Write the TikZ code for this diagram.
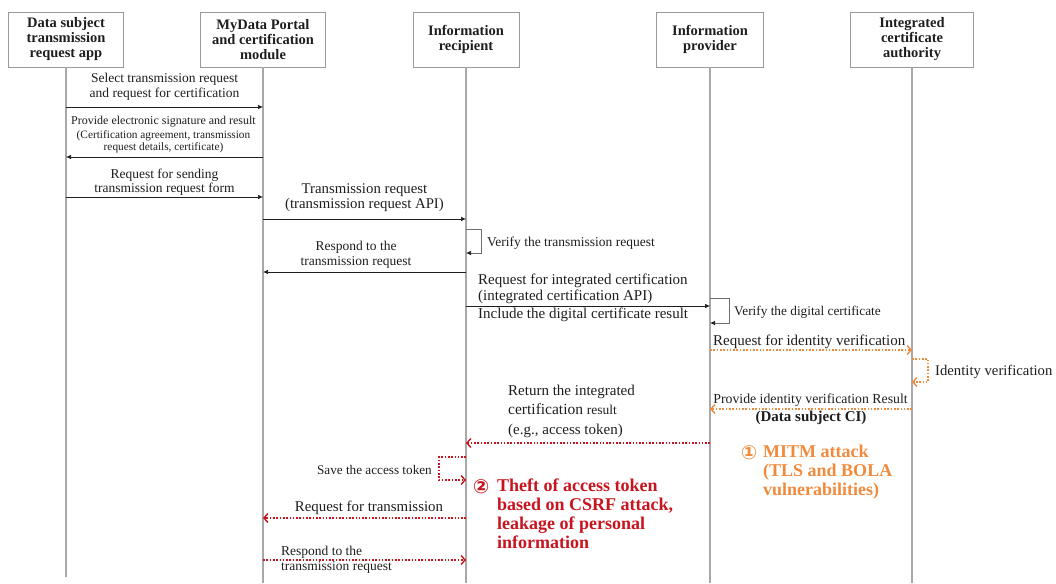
\documentclass[tikz,border=0pt]{standalone}
\usepackage{fontspec}
\setmainfont{Liberation Serif}
\newfontfamily\symfont{DejaVu Sans}
\usetikzlibrary{arrows.meta}

\definecolor{ink}{HTML}{1E1E1E}
\definecolor{lifegray}{HTML}{A8A8A8}
\definecolor{boxgray}{HTML}{9A9A9A}
\definecolor{loopgray}{HTML}{6E6E6E}
\definecolor{mitm}{HTML}{F08A3C}
\definecolor{csrf}{HTML}{C8141E}

\newcommand\fs[2]{\fontsize{#1}{#2}\selectfont}

\begin{document}
\begin{tikzpicture}[x=1pt,y=-1pt,
  actor/.style={draw=boxgray, line width=0.9pt, fill=white, minimum height=55pt,
    align=center, font=\fs{14.5}{15}\bfseries, text=ink, inner sep=0pt},
  lifeline/.style={draw=lifegray, line width=1.1pt},
  lbl/.style={inner sep=0pt, text=ink, align=center, font=\fs{13.5}{14.5}},
  msg/.style={draw=ink, line width=0.7pt, -{Latex[length=5pt,width=4.5pt]}},
  loopline/.style={draw=loopgray, line width=0.7pt, -{Latex[length=5pt,width=4.5pt,color=ink,fill=ink]}},
  dotmsg/.style={line width=1.6pt, dash pattern=on 1.6pt off 1.7pt,
    -{Straight Barb[length=4pt,width=9pt,line width=1.4pt]}},
  mitmline/.style={dotmsg, draw=mitm},
  csrfline/.style={dotmsg, draw=csrf},
  attack/.style={inner sep=0pt, align=left, font=\fs{18}{18.8}\bfseries},
  badge/.style={inner sep=0pt, font=\symfont\bfseries\fs{19.5}{19.5}}
]
\useasboundingbox (0,0) rectangle (1056,583);

% lifeline positions
\def\xA{66}
\def\xB{263}
\def\xC{466}
\def\xD{710}
\def\xE{912}

% participants
\node[actor, minimum width=115pt] (p1) at (\xA,39.5) {Data subject\\transmission\\request app};
\node[actor, minimum width=125pt] (p2) at (\xB,39.5) {MyData Portal\\and certification\\module};
\node[actor, minimum width=106pt] (p3) at (\xC,39.5) {Information\\recipient};
\node[actor, minimum width=107pt] (p4) at (\xD,39.5) {Information\\provider};
\node[actor, minimum width=123pt] (p5) at (\xE,39.5) {Integrated\\certificate\\authority};

% lifelines
\coordinate (e1) at (\xA,577);
\coordinate (e2) at (\xB,583);
\coordinate (e3) at (\xC,583);
\coordinate (e4) at (\xD,583);
\coordinate (e5) at (\xE,583);
\draw[lifeline] (p1) -- (e1);
\draw[lifeline] (p2) -- (e2);
\draw[lifeline] (p3) -- (e3);
\draw[lifeline] (p4) -- (e4);
\draw[lifeline] (p5) -- (e5);

% 1: select transmission request
\node[lbl] (t1) at (164.5,87) {Select transmission request\\and request for certification};
\coordinate (m1s) at (\xA,107); \coordinate (m1e) at (\xB,107);
\draw[msg] (m1s) -- (m1e);

% 2: electronic signature
\node[lbl, font=\fs{12}{13}] (t2a) at (163.5,122) {Provide electronic signature and result};
\node[lbl, font=\fs{11.3}{11.5}] (t2b) at (163.5,141.5) {(Certification agreement, transmission\\request details, certificate)};
\coordinate (m2s) at (\xB,157); \coordinate (m2e) at (\xA,157);
\draw[msg] (m2s) -- (m2e);

% 3: request for sending form
\node[lbl] (t3) at (164.5,182) {Request for sending\\transmission request form};
\coordinate (m3s) at (\xA,197); \coordinate (m3e) at (\xB,197);
\draw[msg] (m3s) -- (m3e);

% 4: transmission request
\node[lbl, font=\fs{14.8}{15}] (t4) at (364.5,197.5) {Transmission request\\(transmission request API)};
\coordinate (m4s) at (\xB,219); \coordinate (m4e) at (\xC,219);
\draw[msg] (m4s) -- (m4e);

% 5: verify the transmission request
\coordinate (l5a) at (\xC,229); \coordinate (l5b) at (\xC,253);
\draw[loopline] (l5a) -- ++(15,0) |- (l5b);
\node[lbl, anchor=west] (t5) at (487,243) {Verify the transmission request};

% 6: respond
\node[lbl] (t6) at (356,255) {Respond to the\\transmission request};
\coordinate (m6s) at (\xC,272); \coordinate (m6e) at (\xB,272);
\draw[msg] (m6s) -- (m6e);

% 7: integrated certification request
\node[lbl, align=left, anchor=west, font=\fs{15}{16}] (t7) at (478,289) {Request for integrated certification\\(integrated certification API)};
\node[lbl, anchor=west, font=\fs{15}{16}] (t7b) at (478,315) {Include the digital certificate result};
\coordinate (m7s) at (\xC,306); \coordinate (m7e) at (\xD,306);
\draw[msg] (m7s) -- (m7e);

% 8: verify the digital certificate
\coordinate (l8a) at (\xD,298); \coordinate (l8b) at (\xD,323);
\draw[loopline] (l8a) -- ++(19,0) |- (l8b);
\node[lbl, anchor=west, font=\fs{13.3}{15}] (t8) at (734,312) {Verify the digital certificate};

% 9: identity verification request
\node[lbl, anchor=west, font=\fs{15}{16}] (t9) at (713,342) {Request for identity verification};
\coordinate (m9s) at (\xD,350); \coordinate (m9e) at (\xE,350);
\draw[mitmline] (m9s) -- (m9e);

% 10: identity verification
\coordinate (l10a) at (\xE,359); \coordinate (l10b) at (\xE,382);
\draw[mitmline] (l10a) -- ++(16,0) |- (l10b);
\node[lbl, anchor=west, font=\fs{14.7}{15}] (t10) at (935,372) {Identity verification};

% 11: identity verification result
\node[lbl, font=\fs{13.8}{15}] (t11) at (810.5,400) {Provide identity verification Result};
\node[lbl, font=\fs{15}{16}\bfseries] (t11b) at (811,418) {(Data subject CI)};
\coordinate (m11s) at (\xE,409); \coordinate (m11e) at (\xD,409);
\draw[mitmline] (m11s) -- (m11e);

% 12: integrated certification result
\node[lbl, align=left, anchor=west, font=\fs{15}{19.5}] (t12) at (508,411)
  {Return the integrated\\{\fs{15.5}{19.5}certification} {\fs{13.5}{19.5}result}\\(e.g., access token)};
\coordinate (m12s) at (\xD,443); \coordinate (m12e) at (\xC,443);
\draw[csrfline] (m12s) -- (m12e);

% 13: save the access token
\coordinate (l13a) at (\xC,457); \coordinate (l13b) at (\xC,480);
\draw[csrfline] (l13a) -- ++(-27,0) |- (l13b);
\node[lbl, anchor=east, font=\fs{13.2}{15}] (t13) at (432,470) {Save the access token};

% attack annotations
\node[badge, text=csrf] (b2) at (481,487) {②};
\node[attack, text=csrf, anchor=north west] (a2) at (497,479)
  {Theft of access token\\based on CSRF attack,\\leakage of personal\\information};
\node[badge, text=mitm] (b1) at (749,453) {①};
\node[attack, text=mitm, anchor=north west] (a1) at (763,445)
  {MITM attack\\(TLS and BOLA\\vulnerabilities)};

% 16: request for transmission
\node[lbl, font=\fs{14.9}{16}] (t16) at (369,508) {Request for transmission};
\coordinate (m16s) at (\xC,518); \coordinate (m16e) at (\xB,518);
\draw[csrfline] (m16s) -- (m16e);

% 17: respond to the transmission request
\node[lbl, align=left, anchor=west] (t17) at (281,559.5) {Respond to the\\transmission request};
\coordinate (m17s) at (\xB,560); \coordinate (m17e) at (\xC,560);
\draw[csrfline] (m17s) -- (m17e);

\end{tikzpicture}
\end{document}
